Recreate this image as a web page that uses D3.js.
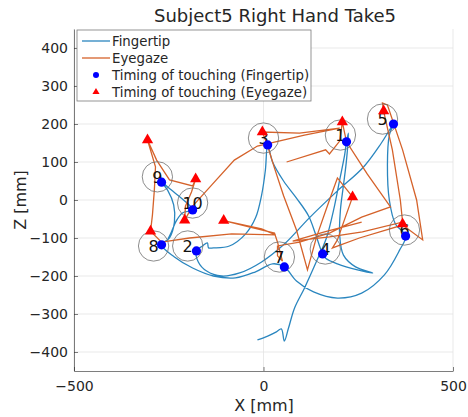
<!DOCTYPE html>
<html>
<head>
<meta charset="utf-8">
<script src="https://cdn.jsdelivr.net/npm/d3@7"></script>
<style>
  body { margin: 0; background: #fff; }
  text { font-family: "DejaVu Sans", sans-serif; fill: #262626; }
</style>
</head>
<body>
<div id="chart"></div>
<script>
// Fingertip trajectory [X, Z] in mm
const fingertip = [
  [-16,-368],[11,-358],[34,-347],[47,-339],[55,-371],[66,-337],[82,-284],[108,-232],[137,-168],[166,-100],
  [185,-26],[201,53],[214,118],[219,153],[224,176],[219,105],[211,39],[203,-26],[201,-92],[211,-145],
  [243,-176],[288,-192],[248,-184],[195,-168],[164,-153],[156,-142],
  [137,-89],[119,-42],[87,5],[53,50],[24,100],[11,145],
  [5,79],[-5,13],[-21,-47],[-47,-89],[-90,-121],[-132,-126],[-145,-126],[-148,-113],[-161,-121],[-177,-134],
  [-172,-163],[-150,-187],[-111,-200],[-63,-192],[-5,-163],[55,-116],[121,-47],[195,24],[264,87],[311,150],[343,200],
  [332,171],[327,92],[332,0],[348,-63],[375,-95],[359,-132],[319,-197],[259,-245],[195,-258],[132,-242],
  [87,-213],[55,-176],[24,-168],[-21,-189],[-74,-205],[-132,-200],[-187,-179],[-235,-150],[-269,-118],
  [-248,-100],[-235,-58],[-237,-13],[-253,26],[-269,47],[-243,26],[-211,0],[-187,-26],
  [-214,-34],[-230,-55],[-243,-84],[-253,-105]
];

// Eyegaze trajectory [X, Z] in mm
const eyegaze = [
  [61,100],[164,132],[174,121],[201,155],[208,205],[219,153],[274,68],[335,-18],[259,-45],[174,-87],
  [95,-111],[37,-121],[37,-147],[50,-161],[37,-111],[29,-87],[-105,-54],[-5,-76],[32,-92],[-84,-89],
  [-195,-100],[-269,-111],[-298,-82],[-293,-39],[-288,26],[-285,87],[-306,158],[-282,105],[-248,53],
  [-187,37],[-179,55],[-190,21],[-206,-16],[-208,-53],[-187,-16],[-137,39],[-77,105],[-16,142],
  [108,171],[201,189],[95,176],[-3,179],[11,142],[29,84],[53,11],[87,-79],[116,-184],[140,-97],[174,0],
  [195,58],[235,8],[216,-45],[195,-105],[182,-126],[253,-100],[367,-66],[420,-105],[404,0],[367,132],
  [327,250],[314,255],[317,234],[340,132],[361,0],[367,-58],[261,-84],[174,-97],[77,-108],[161,-84],[259,-58]
];

// Touch timing positions
const touchFinger = [
  [219,153],[-177,-134],[11,145],[156,-142],[343,200],[375,-95],[55,-176],[-269,-118],[-269,47],[-187,-26]
];
const touchGaze = [
  [208,205],[-105,-54],[-3,179],[235,8],[317,234],[367,-63],[-179,55],[-298,-82],[-306,158],[-208,-53]
];

// Target circles: label, centre X, centre Z
const targetLabels = ["1","2","3","4","5","6","7","8","9","10"];
const targetX = [203,-200,0,163,314,372,42,-290,-280,-187];
const targetZ = [171,-121,163,-129,213,-79,-150,-121,61,-8];
const targetR = 40;

const xTicks = [-500, 0, 500];
const zTicks = [-400,-300,-200,-100,0,100,200,300,400];

const W = 468, H = 417;
const blue = "#2a86bf", orange = "#d5622a";

const svg = d3.select("#chart").append("svg")
  .attr("width", W).attr("height", H);

const x = d3.scaleLinear().domain([-500, 500]).range([74, 453]);
const y = d3.scaleLinear().domain([-450, 450]).range([371, 29]);

// grid
svg.append("g").selectAll("line").data(zTicks).join("line")
  .attr("x1", x(-500)).attr("x2", x(500))
  .attr("y1", d => y(d)).attr("y2", d => y(d))
  .attr("stroke", "#e3e3e3").attr("stroke-width", 0.8);
svg.append("g").selectAll("line").data(xTicks).join("line")
  .attr("x1", d => x(d)).attr("x2", d => x(d))
  .attr("y1", y(-450)).attr("y2", y(450))
  .attr("stroke", "#e3e3e3").attr("stroke-width", 0.8);

// axes
const xAxis = svg.append("g")
  .attr("transform", `translate(0,${y(-450)})`)
  .call(d3.axisBottom(x).tickValues(xTicks).tickSizeInner(-4).tickSizeOuter(0).tickPadding(10));
const yAxis = svg.append("g")
  .attr("transform", `translate(${x(-500)},0)`)
  .call(d3.axisLeft(y).tickValues(zTicks).tickSizeInner(-4).tickSizeOuter(0).tickPadding(6));
[xAxis, yAxis].forEach(a => {
  a.select(".domain").attr("stroke", "#262626").attr("stroke-width", 0.6);
  a.selectAll(".tick line").attr("stroke", "#262626").attr("stroke-width", 0.6);
  a.selectAll(".tick text").attr("font-size", 14).attr("fill", "#262626")
    .attr("font-family", "'DejaVu Sans', sans-serif");
});

// trajectories
svg.append("path").datum(fingertip)
  .attr("d", d3.line().x(d => x(d[0])).y(d => y(d[1])).curve(d3.curveCatmullRom.alpha(0.5)))
  .attr("fill", "none").attr("stroke", blue).attr("stroke-width", 1.3);
svg.append("path").datum(eyegaze)
  .attr("d", d3.line().x(d => x(d[0])).y(d => y(d[1])))
  .attr("fill", "none").attr("stroke", orange).attr("stroke-width", 1.3);

// target circles + labels
const targets = targetLabels.map((t, i) => ({t, cx: targetX[i], cz: targetZ[i]}));
svg.append("g").selectAll("circle").data(targets).join("circle")
  .attr("cx", d => x(d.cx)).attr("cy", d => y(d.cz))
  .attr("r", x(targetR) - x(0))
  .attr("fill", "none").attr("stroke", "#6e6e6e").attr("stroke-width", 0.8);
svg.append("g").selectAll("text").data(targets).join("text")
  .attr("x", d => x(d.cx)).attr("y", d => y(d.cz) + 6)
  .attr("text-anchor", "middle").attr("font-size", 16)
  .attr("font-family", "'Liberation Sans', sans-serif")
  .style("fill", "#111").text(d => d.t);

// touch markers
svg.append("g").selectAll("circle").data(touchFinger).join("circle")
  .attr("cx", d => x(d[0])).attr("cy", d => y(d[1])).attr("r", 4.6)
  .attr("fill", "#0000ff");
const tri = d3.symbol(d3.symbolTriangle, 55);
svg.append("g").selectAll("path").data(touchGaze).join("path")
  .attr("d", tri)
  .attr("transform", d => `translate(${x(d[0])},${y(d[1])})`)
  .attr("fill", "#ff0000");

// title and axis labels
svg.append("text").attr("x", 275).attr("y", 22)
  .attr("text-anchor", "middle").attr("font-size", 18).text("Subject5 Right Hand Take5");
svg.append("text").attr("x", 264).attr("y", 411)
  .attr("text-anchor", "middle").attr("font-size", 16).text("X [mm]");
svg.append("text").attr("transform", `translate(26,${y(0)}) rotate(-90)`)
  .attr("text-anchor", "middle").attr("font-size", 16).text("Z [mm]");

// legend
const legendNames = ["Fingertip", "Eyegaze", "Timing of touching (Fingertip)", "Timing of touching (Eyegaze)"];
const lg = svg.append("g").attr("transform", "translate(77,30)");
lg.append("rect").attr("width", 234).attr("height", 71)
  .attr("fill", "#fff").attr("stroke", "#7a7a7a").attr("stroke-width", 0.8);
legendNames.forEach((name, i) => {
  const yy = 11 + i * 17;
  if (i < 2) {
    lg.append("line").attr("x1", 5).attr("x2", 33).attr("y1", yy).attr("y2", yy)
      .attr("stroke", i === 0 ? blue : orange).attr("stroke-width", 1.3);
  } else if (i === 2) {
    lg.append("circle").attr("cx", 19).attr("cy", yy).attr("r", 3).attr("fill", "#0000ff");
  } else {
    lg.append("path").attr("d", d3.symbol(d3.symbolTriangle, 22))
      .attr("transform", `translate(19,${yy})`).attr("fill", "#ff0000");
  }
  lg.append("text").attr("x", 35).attr("y", yy + 5).attr("font-size", 13.3).text(name);
});
</script>
</body>
</html>
